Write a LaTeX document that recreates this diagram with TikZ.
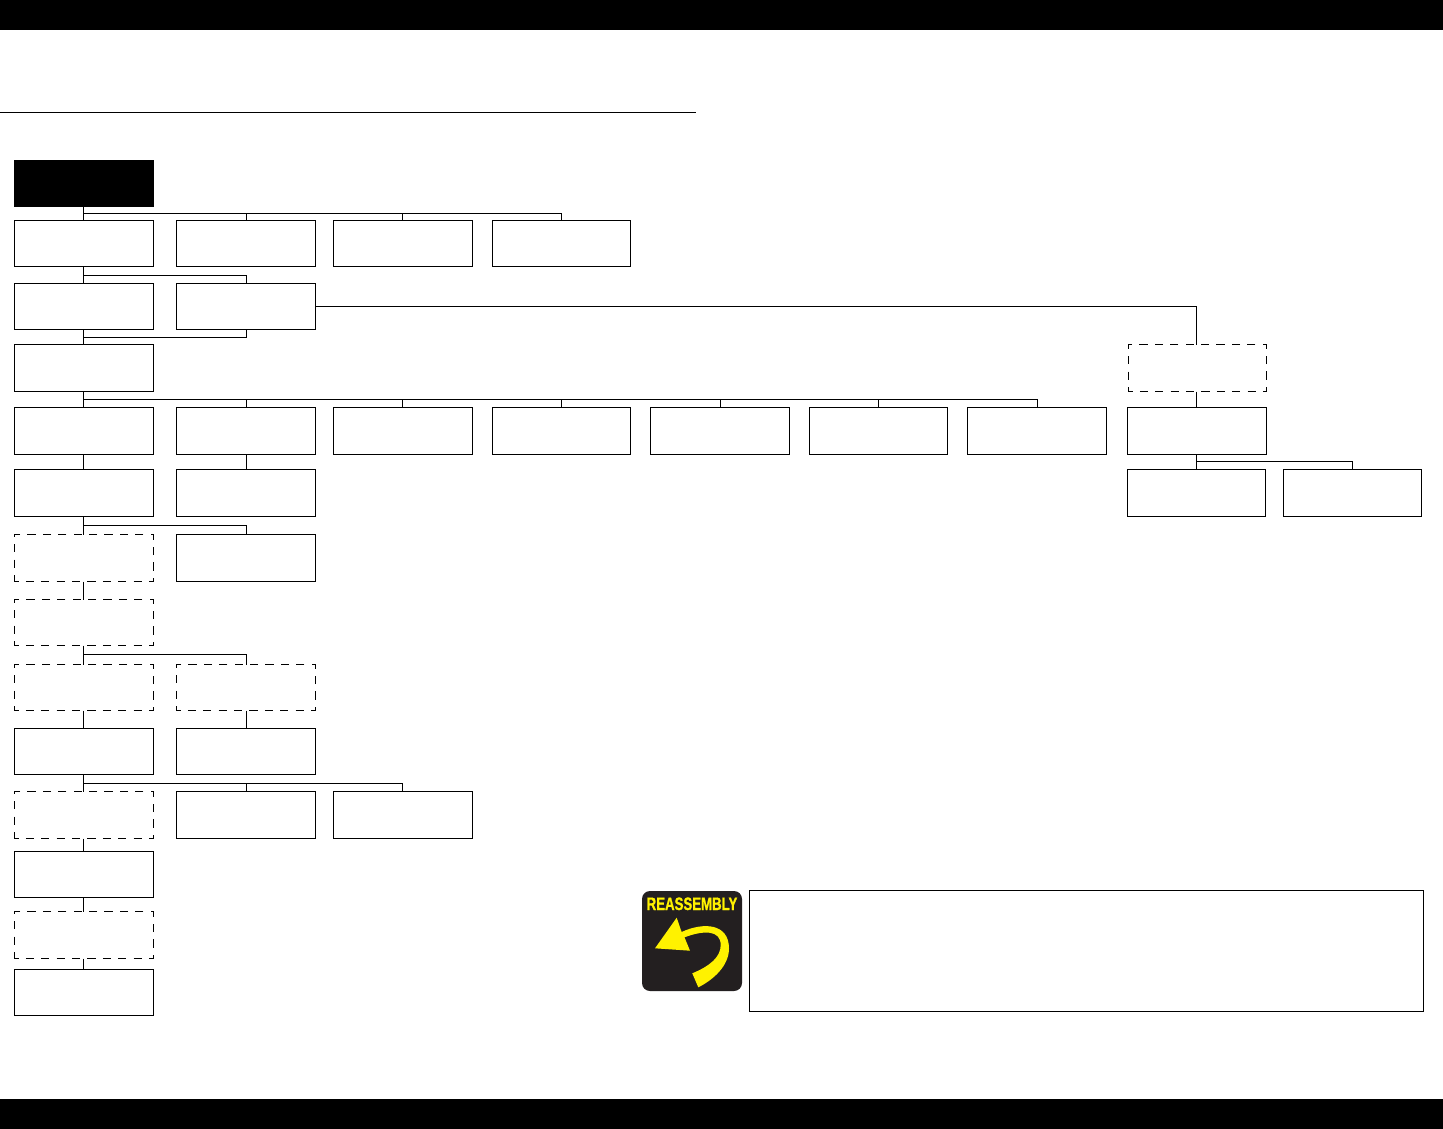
\documentclass[tikz,border=0pt]{standalone}
\usepackage{fontspec}
\newfontfamily\iconfont[FakeBold=1.2]{Liberation Sans Bold}
\begin{document}
\begin{tikzpicture}[x=1pt,y=-1pt,
  line width=1pt,line join=miter,
  box/.style={draw=black,fill=white,rectangle,inner sep=0pt,outer sep=0pt,minimum width=139pt,minimum height=46pt},
  tall/.style={minimum height=47pt},
  narrow/.style={minimum width=138pt},
  dbox/.style={box,dash pattern=on 8.2pt off 7.2pt,dash phase=4.1pt},
  rootbox/.style={fill=black,draw=none,rectangle,inner sep=0pt,outer sep=0pt,minimum width=140pt,minimum height=47pt},
  bar/.style={fill=black,draw=none,rectangle,inner sep=0pt,outer sep=0pt,minimum width=1443pt,minimum height=30pt},
  conn/.style={draw=black,line width=1pt},
  iconbox/.style={fill=iconbg,draw=none,rectangle,rounded corners=8pt,inner sep=0pt,outer sep=0pt,minimum width=100pt,minimum height=100pt},
  calloutbox/.style={draw=black,rectangle,inner sep=0pt,outer sep=0pt,minimum width=674pt,minimum height=121pt}]
\definecolor{iconbg}{HTML}{231F20}
\definecolor{iconyl}{HTML}{FFF200}
\useasboundingbox (0,0) rectangle (1443,1129);
\node[bar] (topbar) at (721.5,15) {};
\node[bar] (botbar) at (721.5,1114) {};
\coordinate (ruleL) at (0,112.5);
\coordinate (ruleR) at (695.7,112.5);
\draw[conn] (ruleL) -- (ruleR);
% connector columns and bus rows
\coordinate (colA) at (83.5,0);
\coordinate (colB) at (246.5,0);
\coordinate (colC) at (402.5,0);
\coordinate (colD) at (561.5,0);
\coordinate (colE) at (720.5,0);
\coordinate (colF) at (878.5,0);
\coordinate (colG) at (1037.5,0);
\coordinate (colH) at (1196.5,0);
\coordinate (colI) at (1352.5,0);
\coordinate (bus1) at (0,213.5);
\coordinate (bus2) at (0,275.5);
\coordinate (bus3) at (0,337.5);
\coordinate (bus4) at (0,399.5);
\coordinate (bus6) at (0,525.5);
\coordinate (bus8) at (0,654.5);
\coordinate (bus10) at (0,783.5);
\coordinate (busH) at (0,461.5);
% first column
\node[rootbox] (root) at (84,183.5) {};
\node[box] (a1) at (84,243.5) {};
\node[box] (a2) at (84,306.5) {};
\node[box,tall] (a3) at (84,368) {};
\node[box,tall] (a4) at (84,431) {};
\node[box,tall] (a5) at (84,493) {};
\node[dbox,tall] (a6) at (84,558) {};
\node[dbox] (a7) at (84,622.5) {};
\node[dbox] (a8) at (84,687.5) {};
\node[box] (a9) at (84,751.5) {};
\node[dbox,tall] (a10) at (84,815) {};
\node[box] (a11) at (84,874.5) {};
\node[dbox,tall] (a12) at (84,935) {};
\node[box] (a13) at (84,992.5) {};
% second column
\node[box] (b1) at (246,243.5) {};
\node[box] (b2) at (246,306.5) {};
\node[box,tall] (b4) at (246,431) {};
\node[box,tall] (b5) at (246,493) {};
\node[box,tall] (b6) at (246,558) {};
\node[dbox] (b8) at (246,687.5) {};
\node[box] (b9) at (246,751.5) {};
\node[box,tall] (b10) at (246,815) {};
% others
\node[box] (c1) at (403,243.5) {};
\node[box,narrow] (d1) at (561.5,243.5) {};
\node[box,tall] (c4) at (403,431) {};
\node[box,narrow,tall] (d4) at (561.5,431) {};
\node[box,tall] (e4) at (720,431) {};
\node[box,narrow,tall] (f4) at (878.5,431) {};
\node[box,tall] (g4) at (1037,431) {};
\node[box,tall] (c10) at (403,815) {};
\node[dbox,narrow,tall] (h3) at (1197.5,368) {};
\node[box,tall] (h4) at (1197,431) {};
\node[box,narrow,tall] (h5) at (1196.5,493) {};
\node[box,narrow,tall] (i5) at (1352.5,493) {};
% connectors
\draw[conn] (colA |- root.south) -- (colA |- a1.north);
\draw[conn] (colA |- bus1) -| (colB |- b1.north);
\draw[conn] (colA |- bus1) -| (colC |- c1.north);
\draw[conn] (colA |- bus1) -| (colD |- d1.north);
\draw[conn] (colA |- a1.south) -- (colA |- a2.north);
\draw[conn] (colA |- bus2) -| (colB |- b2.north);
\draw[conn] (colA |- a2.south) -- (colA |- a3.north);
\draw[conn] (colB |- b2.south) |- (colA |- bus3);
\draw[conn] (b2.east) -| (colH |- h3.north);
\draw[conn] (colA |- a3.south) -- (colA |- a4.north);
\draw[conn] (colA |- bus4) -| (colB |- b4.north);
\draw[conn] (colA |- bus4) -| (colC |- c4.north);
\draw[conn] (colA |- bus4) -| (colD |- d4.north);
\draw[conn] (colA |- bus4) -| (colE |- e4.north);
\draw[conn] (colA |- bus4) -| (colF |- f4.north);
\draw[conn] (colA |- bus4) -| (colG |- g4.north);
\draw[conn] (colA |- a4.south) -- (colA |- a5.north);
\draw[conn] (colB |- b4.south) -- (colB |- b5.north);
\draw[conn] (colA |- a5.south) -- (colA |- a6.north);
\draw[conn] (colA |- bus6) -| (colB |- b6.north);
\draw[conn] (colA |- a6.south) -- (colA |- a7.north);
\draw[conn] (colA |- a7.south) -- (colA |- a8.north);
\draw[conn] (colA |- bus8) -| (colB |- b8.north);
\draw[conn] (colA |- a8.south) -- (colA |- a9.north);
\draw[conn] (colB |- b8.south) -- (colB |- b9.north);
\draw[conn] (colA |- a9.south) -- (colA |- a10.north);
\draw[conn] (colA |- bus10) -| (colB |- b10.north);
\draw[conn] (colA |- bus10) -| (colC |- c10.north);
\draw[conn] (colA |- a10.south) -- (colA |- a11.north);
\draw[conn] (colA |- a11.south) -- (colA |- a12.north);
\draw[conn] (colA |- a12.south) -- (colA |- a13.north);
\draw[conn] (colH |- h3.south) -- (colH |- h4.north);
\draw[conn] (colH |- h4.south) -- (colH |- h5.north);
\draw[conn] (colH |- busH) -| (colI |- i5.north);
% icon
\node[iconbox] (icon) at (692,941) {};
\node[text=iconyl,font=\iconfont\fontsize{18}{18}\selectfont,xscale=.735,transform shape,inner sep=0pt,anchor=base] (iconlabel) at (692,910) {REASSEMBLY};
\fill[iconyl] (655,948.3) -- (676.7,917.7) -- (681.6,932) .. controls (703,922) and (729,923) .. (729,948.5) .. controls (729,966) and (713,980) .. (698.3,987.3) -- (692.3,973.3) .. controls (710,966) and (720.7,957) .. (720.7,945) .. controls (720.7,930) and (704,930) .. (684.5,937.3) -- (690,950.7) -- cycle;
\node[calloutbox] (callout) at (1086.5,951) {};
\end{tikzpicture}
\end{document}
